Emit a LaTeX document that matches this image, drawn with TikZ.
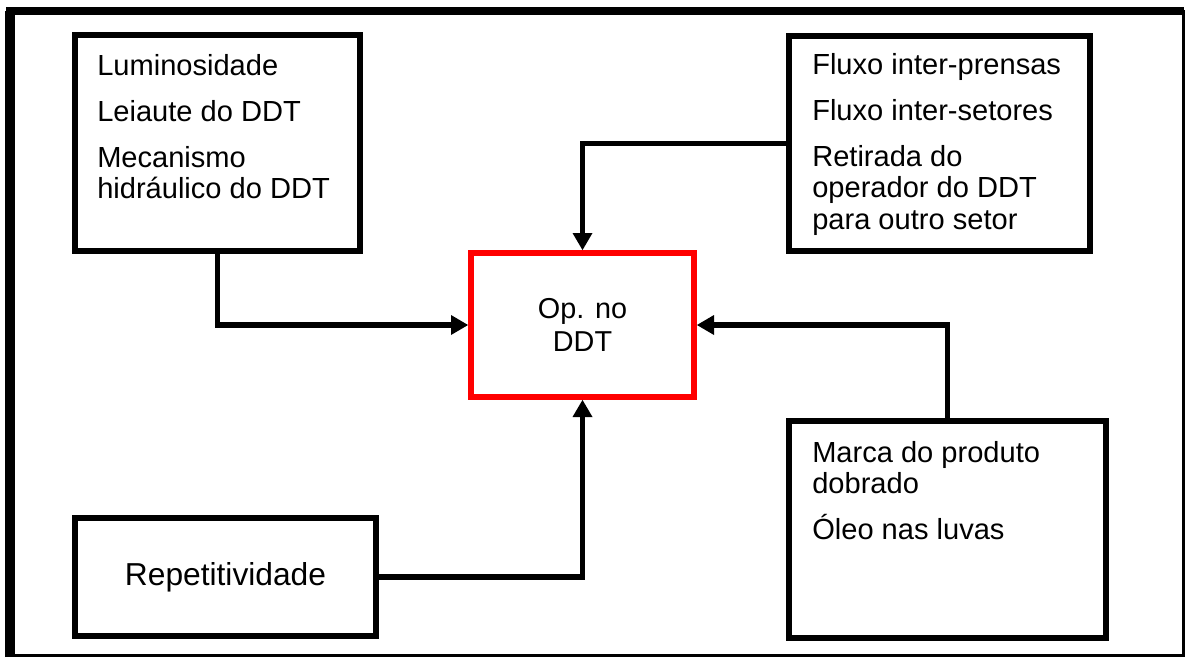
\documentclass[tikz,border=0pt]{standalone}
\usepackage{fontspec}
\setmainfont{Liberation Sans}
\usetikzlibrary{arrows.meta}

\begin{document}
\begin{tikzpicture}[x=0.75pt,y=-0.75pt,
  box/.style={draw=black,line width=4.3pt,inner sep=0pt},
  opbox/.style={draw=red,line width=4pt,inner sep=0pt,align=center,
    font=\fontsize{21.6}{25}\selectfont},
  txt/.style={anchor=north west,align=left,inner sep=0pt,
    font=\fontsize{21.8}{23.5}\selectfont},
  arr/.style={line width=4.4pt,-{Triangle[length=13pt,width=14pt]}}]
  \useasboundingbox (0,0) rectangle (1187,658);
  % Frame
  \draw[line width=2.25pt] (10,11) rectangle (1183,655);
  \draw[line width=7.5pt] (10,657) -- (10,11);
  \draw[line width=6pt] (6,11) -- (1184,11);
  % Boxes
  \node[box,minimum width=213.75pt,minimum height=161.6pt] (lum) at (217.5,143) {};
  \node[box,minimum width=225.75pt,minimum height=161.25pt] (flu) at (939.5,143.5) {};
  \node[opbox,minimum width=167.25pt,minimum height=108pt] (op) at (582.5,325) {Op. no\\DDT};
  \node[box,minimum width=225.75pt,minimum height=88.5pt,
    font=\fontsize{23.8}{27}\selectfont] (rep) at (225.5,577) {Repetitividade};
  \node[box,minimum width=237.75pt,minimum height=162.75pt] (mar) at (947.5,529.5) {};
  % Texts
  \node[txt] (lumtxt) at (97,54) {Luminosidade\\[11pt]Leiaute do DDT\\[11pt]Mecanismo\\hidráulico do DDT};
  \node[txt] (flutxt) at (812,53) {Fluxo inter-prensas\\[11pt]Fluxo inter-setores\\[11pt]Retirada do\\operador do DDT\\para outro setor};
  \node[txt] (martxt) at (812,441) {Marca do produto\\dobrado\\[11pt]Óleo nas luvas};
  % Arrows
  \draw[arr] (lum.south) |- (op.west);
  \draw[arr] (flu.west) -| (op.north);
  \draw[arr] (mar.north) |- (op.east);
  \draw[arr] (rep.east) -| (op.south);
\end{tikzpicture}
\end{document}
